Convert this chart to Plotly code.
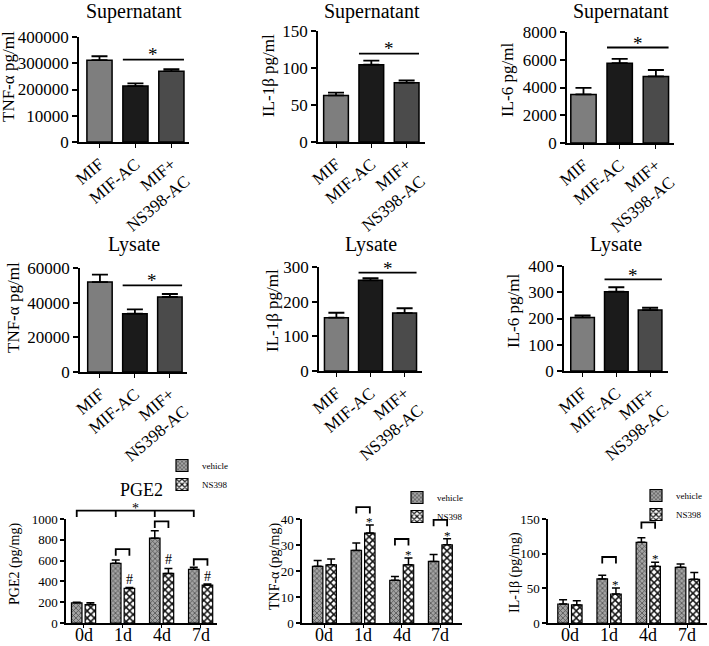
import plotly.graph_objects as go

W, H = 709, 646
FONT = "Liberation Serif"


def PX(x):
    return x / W


def PY(y):
    return 1 - y / H


# ---------------- data ----------------
groups = ["MIF", "MIF-AC", "MIF+<br>NS398-AC"]
group_colors = ["#7e7e7e", "#1b1b1b", "#4b4b4b"]

sup_tnf = [311700, 213000, 270000]
sup_tnf_sem = [15000, 10000, 7500]
sup_il1b = [63, 104.5, 80.2]
sup_il1b_sem = [3.7, 5.5, 3.1]
sup_il6 = [3500, 5750, 4800]
sup_il6_sem = [470, 320, 460]

lys_tnf = [51900, 33650, 43270]
lys_tnf_sem = [4250, 2500, 1730]
lys_il1b = [153.8, 261.5, 167]
lys_il1b_sem = [14.2, 6.5, 14]
lys_il6 = [204, 302, 232]
lys_il6_sem = [8, 17, 9]

# significance line level and star level (top two rows)
top_sig_line = [314000, 119.4, 6884, 50000, 283.6, 349]
top_sig_star = [343000, 130.6, 7391, 54400, 303, 376]

days = ["0d", "1d", "4d", "7d"]
pge2_vehicle = [194, 574, 816, 516]
pge2_vehicle_sem = [6, 32, 71, 19]
pge2_ns398 = [177, 332, 477, 365]
pge2_ns398_sem = [17, 10, 46, 9]

tnf_vehicle = [21.8, 27.9, 16.4, 23.7]
tnf_vehicle_sem = [2.2, 2.9, 1.5, 2.6]
tnf_ns398 = [22.4, 34.6, 22.4, 30.1]
tnf_ns398_sem = [2.2, 3.1, 2.6, 2.3]

il1b_vehicle = [27.4, 63.5, 116.3, 80.3]
il1b_vehicle_sem = [6.3, 5.3, 6.7, 4.8]
il1b_ns398 = [26.0, 41.8, 81.7, 63.0]
il1b_ns398_sem = [6.2, 8.7, 5.8, 10.0]

# brackets: (day index, level); marks above NS398 bars: (day index, level)
pge2_overall_bracket = 1081
pge2_pairs = [(1, 710), (2, 977), (3, 613)]
pge2_hash = [(1, 423), (2, 606), (3, 445)]
pge2_star = 1129
tnf_pairs = [(1, 44.6), (2, 32.3), (3, 39.7)]
tnf_stars = [(1, 39.7), (2, 27.2), (3, 34.6)]
il1b_pairs = [(1, 95.2), (2, 145.2)]
il1b_stars = [(1, 58.7), (2, 96.2)]

# ---------------- panel geometry (pixels in the screenshot) ----------------
panels = [
    dict(px=(79, 189), py=(37, 142), xr=[-0.57, 2.49],
         yt=[0, 100000, 200000, 300000, 400000],
         ytt=["0", "10000", "200000", "300000", "400000"],
         ytitle="TNF-α pg/ml", tpos=(8, 77), title="Supernatant"),
    dict(px=(318, 425), py=(31, 142), xr=[-0.51, 2.52],
         yt=[0, 50, 100, 150], ytt=None, ytitle="IL-1β pg/ml", tpos=(268, 76), title="Supernatant"),
    dict(px=(567, 674), py=(32, 143), xr=[-0.455, 2.5],
         yt=[0, 2000, 4000, 6000, 8000], ytt=None, ytitle="IL-6 pg/ml", tpos=(508, 80), title="Supernatant"),
    dict(px=(80, 187), py=(268, 372), xr=[-0.57, 2.49],
         yt=[0, 20000, 40000, 60000], ytt=None, ytitle="TNF-α pg/ml", tpos=(14, 308), title="Lysate"),
    dict(px=(319, 422), py=(267, 371), xr=[-0.51, 2.51],
         yt=[0, 100, 200, 300], ytt=None, ytitle="IL-1β pg/ml", tpos=(272, 311), title="Lysate"),
    dict(px=(564, 668), py=(266, 371), xr=[-0.55, 2.53],
         yt=[0, 100, 200, 300, 400], ytt=None, ytitle="IL-6 pg/ml", tpos=(513, 311), title="Lysate"),
    dict(px=(66, 217), py=(519, 623), xr=[-0.45, 3.42],
         yt=[0, 200, 400, 600, 800, 1000], ytt=None, ytitle="PGE2 (pg/mg)", tpos=(15, 564), title="PGE2"),
    dict(px=(302, 462), py=(519, 623), xr=[-0.58, 3.56],
         yt=[0, 10, 20, 30, 40], ytt=None, ytitle="TNF-α (pg/mg)", tpos=(275, 567), title=None),
    dict(px=(548, 707), py=(519, 623), xr=[-0.56, 3.5],
         yt=[0, 50, 100, 150], ytt=None, ytitle="IL-1β (pg/mg)", tpos=(515, 573), title=None),
]
title_y_px = {"Supernatant": 12, "Lysate": 245, "PGE2": 490}

fig = go.Figure()
layout = dict(width=W, height=H, margin=dict(l=0, r=0, t=0, b=0), autosize=False,
              template="none", paper_bgcolor="white", plot_bgcolor="white",
              font=dict(family=FONT, color="black"), barmode="overlay",
              showlegend=True)
shapes = []
annotations = []

for i, p in enumerate(panels):
    n = i + 1
    sfx = "" if n == 1 else str(n)
    bottom = n >= 7
    ymax = p["yt"][-1]
    layout["xaxis" + sfx] = dict(
        domain=[PX(p["px"][0]), PX(p["px"][1])], anchor="y" + sfx, range=p["xr"],
        tickvals=list(range(4 if bottom else 3)),
        ticktext=days if bottom else groups,
        showticklabels=not bottom,
        tickangle=-40,
        tickfont=dict(size=17, family=FONT, color="black"),
        showline=True, linecolor="black", linewidth=1.5, ticks="outside",
        ticklen=3 if bottom else 4, tickwidth=1.2, tickcolor="black",
        showgrid=False, zeroline=False, automargin=False, fixedrange=True)
    layout["yaxis" + sfx] = dict(
        domain=[PY(p["py"][1]), PY(p["py"][0])], anchor="x" + sfx,
        range=[0, ymax], tickvals=p["yt"],
        ticktext=p["ytt"] if p["ytt"] else [str(v) for v in p["yt"]],
        tickfont=dict(size=13 if bottom else 17, family=FONT, color="black"),
        showline=True, linecolor="black", linewidth=1.5, ticks="outside",
        ticklen=4 if bottom else 5, tickwidth=1.5, tickcolor="black",
        showgrid=False, zeroline=False, automargin=False, fixedrange=True)
    # y-axis title
    annotations.append(dict(text=p["ytitle"], xref="paper", yref="paper",
                            x=PX(p["tpos"][0]), y=PY(p["tpos"][1]), textangle=-90,
                            showarrow=False, xanchor="center", yanchor="middle",
                            font=dict(size=14 if bottom else 17, family=FONT, color="black")))
    if p["title"]:
        annotations.append(dict(text=p["title"], xref="x" + sfx + " domain", yref="paper",
                                x=0.5, y=PY(title_y_px[p["title"]]), showarrow=False,
                                xanchor="center", yanchor="middle",
                                font=dict(size=18 if bottom else 20, family=FONT, color="black")))
    if bottom:
        # day labels under the bottom-row axes
        for g, d in enumerate(days):
            annotations.append(dict(text=d, xref="x" + sfx, yref="y" + sfx + " domain",
                                    x=g, y=0, yanchor="top", xanchor="center", yshift=0,
                                    showarrow=False,
                                    font=dict(size=18, family=FONT, color="black")))

# ---------------- top two rows ----------------
top_sets = [
    (sup_tnf, sup_tnf_sem), (sup_il1b, sup_il1b_sem), (sup_il6, sup_il6_sem),
    (lys_tnf, lys_tnf_sem), (lys_il1b, lys_il1b_sem), (lys_il6, lys_il6_sem),
]
BW = 0.7
for i, (vals, sems) in enumerate(top_sets):
    n = i + 1
    sfx = "" if n == 1 else str(n)
    ymax = panels[i]["yt"][-1]
    fig.add_trace(go.Bar(
        x=list(range(len(groups))), y=vals, width=BW,
        marker=dict(color=group_colors, line=dict(color="black", width=1.5)),
        error_y=dict(type="data", array=sems, arrayminus=[0] * len(sems), symmetric=False,
                     color="black", thickness=1.8, width=8),
        xaxis="x" + sfx, yaxis="y" + sfx, showlegend=False, hoverinfo="skip"))
    shapes.append(dict(type="line", xref="x" + sfx, yref="y" + sfx + " domain",
                       x0=1 - BW / 2, x1=2 + BW / 2,
                       y0=top_sig_line[i] / ymax, y1=top_sig_line[i] / ymax,
                       line=dict(color="black", width=1.8)))
    annotations.append(dict(text="*", xref="x" + sfx, yref="y" + sfx + " domain",
                            x=1.5, y=top_sig_star[i] / ymax, showarrow=False,
                            yanchor="middle", yshift=-3,
                            font=dict(size=19, family=FONT, color="black")))

# ---------------- bottom row ----------------
V_OFF, N_OFF, GW = -0.31, 0.04, 0.27
V_C, N_C = V_OFF + GW / 2, N_OFF + GW / 2
LEG = 6.5 / 104

veh_pattern = dict(shape="x", fgcolor="#4e4e4e", bgcolor="#a4a4a4", size=3.5, solidity=0.4)
ns_pattern = dict(shape="x", fgcolor="#111111", bgcolor="#ffffff", size=5, solidity=0.5)

bottom_sets = [
    (pge2_vehicle, pge2_vehicle_sem, pge2_ns398, pge2_ns398_sem, "legend"),
    (tnf_vehicle, tnf_vehicle_sem, tnf_ns398, tnf_ns398_sem, "legend2"),
    (il1b_vehicle, il1b_vehicle_sem, il1b_ns398, il1b_ns398_sem, "legend3"),
]
for j, (v, vs, ns, nss, leg) in enumerate(bottom_sets):
    n = 7 + j
    sfx = str(n)
    xs = list(range(len(days)))
    fig.add_trace(go.Bar(
        x=xs, y=v, width=GW, offset=V_OFF, name="vehicle", legend=leg,
        marker=dict(color="#a4a4a4", line=dict(color="black", width=1.2), pattern=veh_pattern),
        error_y=dict(type="data", array=vs, arrayminus=[0] * 4, symmetric=False,
                     color="black", thickness=1.5, width=4),
        xaxis="x" + sfx, yaxis="y" + sfx, hoverinfo="skip"))
    fig.add_trace(go.Bar(
        x=xs, y=ns, width=GW, offset=N_OFF, name="NS398", legend=leg,
        marker=dict(color="#ffffff", line=dict(color="black", width=1.2), pattern=ns_pattern),
        error_y=dict(type="data", array=nss, arrayminus=[0] * 4, symmetric=False,
                     color="black", thickness=1.5, width=4),
        xaxis="x" + sfx, yaxis="y" + sfx, hoverinfo="skip"))


def pair_bracket(sfx, g, level, ymax):
    yd = level / ymax
    a, b = g + V_C, g + N_C
    return dict(type="path", xref="x" + sfx, yref="y" + sfx + " domain",
                path=f"M{a},{yd - LEG} L{a},{yd} L{b},{yd} L{b},{yd - LEG}",
                line=dict(color="black", width=1.8))


def mark(sfx, g, level, ymax, txt, size, shift):
    return dict(text=txt, xref="x" + sfx, yref="y" + sfx + " domain", x=g + N_C,
                y=level / ymax, showarrow=False, yanchor="middle", yshift=shift,
                font=dict(size=size, family=FONT, color="black"))


# PGE2 panel
ym = panels[6]["yt"][-1]
yd = pge2_overall_bracket / ym
xs_v = [g + V_C for g in range(len(days))]
path = f"M{xs_v[0]},{yd - LEG} L{xs_v[0]},{yd} L{xs_v[-1]},{yd} L{xs_v[-1]},{yd - LEG}"
for xv in xs_v[1:-1]:
    path += f" M{xv},{yd} L{xv},{yd - LEG}"
shapes.append(dict(type="path", xref="x7", yref="y7 domain", path=path,
                   line=dict(color="black", width=1.8)))
annotations.append(dict(text="*", xref="x7", yref="y7 domain", x=(xs_v[0] + xs_v[-1]) / 2,
                        y=pge2_star / ym, showarrow=False, yanchor="middle", yshift=-3,
                        font=dict(size=14, family=FONT, color="black")))
for g, lv in pge2_pairs:
    shapes.append(pair_bracket("7", g, lv, ym))
for g, lv in pge2_hash:
    annotations.append(mark("7", g, lv, ym, "#", 14, 0))

ym = panels[7]["yt"][-1]
for g, lv in tnf_pairs:
    shapes.append(pair_bracket("8", g, lv, ym))
for g, lv in tnf_stars:
    annotations.append(mark("8", g, lv, ym, "*", 13, -2))

ym = panels[8]["yt"][-1]
for g, lv in il1b_pairs:
    shapes.append(pair_bracket("9", g, lv, ym))
for g, lv in il1b_stars:
    annotations.append(mark("9", g, lv, ym, "*", 13, -2))

leg_common = dict(xanchor="left", yanchor="top", bgcolor="rgba(0,0,0,0)",
                  font=dict(size=9, family=FONT, color="black"), tracegroupgap=0,
                  traceorder="normal", itemclick=False, itemdoubleclick=False)
layout["legend"] = dict(x=PX(162), y=PY(451), **leg_common)
layout["legend2"] = dict(x=PX(397), y=PY(483), **leg_common)
layout["legend3"] = dict(x=PX(636), y=PY(481), **leg_common)

layout["shapes"] = shapes
layout["annotations"] = annotations
fig.update_layout(**layout)
# the page's default body margin would push the figure off the 709x646 window
fig.write_html("out.html", config={"displayModeBar": False},
               post_script="document.body.style.margin='0px';")
